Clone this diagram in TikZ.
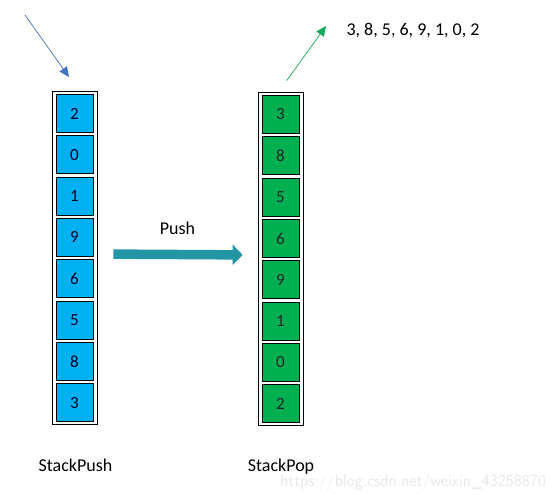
\documentclass[tikz,border=0pt]{standalone}
\usepackage{fontspec}
\setmainfont{Carlito}
\usetikzlibrary{arrows.meta}

\definecolor{pushblue}{RGB}{0,176,240}
\definecolor{popgreen}{RGB}{0,176,80}
\definecolor{arrowteal}{RGB}{35,150,166}
\definecolor{inblue}{RGB}{68,114,196}
\definecolor{outgreen}{RGB}{22,170,90}

\tikzset{
  stack box/.style={draw, line width=0.8pt, minimum width=45pt, minimum height=333pt, inner sep=0pt},
  push cell/.style={draw, line width=0.8pt, fill=pushblue, text=black!70!blue!60!black, minimum width=37pt, minimum height=38pt, inner sep=0pt, font=\fontsize{17}{17}\selectfont},
  pop cell/.style={draw, line width=0.8pt, fill=popgreen, text=black!85, minimum width=37pt, minimum height=38pt, inner sep=0pt, font=\fontsize{17}{17}\selectfont},
  label text/.style={font=\fontsize{18}{18}\selectfont}
}

\begin{document}
\begin{tikzpicture}[x=1pt, y=-1pt]
\useasboundingbox (0,0) rectangle (555,495);

\node [stack box] (push-box) at (74.5,257.5) {};
\node [stack box] (pop-box) at (280.5,258.5) {};

\foreach \v [count=\y] in {2,0,1,9,6,5,8,3}
  \node [push cell] (push-\y) at (74.5,113.5+\y*41.3-41.3) {\v};

\foreach \v [count=\y] in {3,8,5,6,9,1,0,2}
  \node [pop cell] (pop-\y) at (280.5,114.5+\y*41.3-41.3) {\v};

% arrows in and out
\coordinate (in-start) at (25,15);
\coordinate (in-end) at (69,77);
\draw [inblue, line width=0.7pt, -{Triangle[length=10pt, width=9pt]}] (in-start) -- (in-end);

\coordinate (out-start) at (286.7,80.7);
\coordinate (out-end) at (326,26);
\draw [outgreen, line width=0.7pt, -{Triangle[length=10pt, width=9pt]}] (out-start) -- (out-end);

\node [label text, anchor=west] (popped) at (343,31) {3, 8, 5, 6, 9, 1, 0, 2};

% push arrow
\draw [arrowteal, line width=9.5pt, shorten <=16pt, shorten >=15pt,
  -{Triangle[length=10pt, width=20pt]}]
  ([yshift=3.5pt]push-box.east) -- ([yshift=3.5pt]pop-box.west)
  node [midway, above=12pt, text=black, label text] (push-label) {Push};

\node [label text] (push-name) at (75.5,465) {StackPush};
\node [label text] (pop-name) at (281,467) {StackPop};

\node [font=\fontsize{17}{17}\selectfont\sffamily, text=gray!18] (mark) at (413,482) {https://blog.csdn.net/weixin\_43258870};
\end{tikzpicture}
\end{document}
